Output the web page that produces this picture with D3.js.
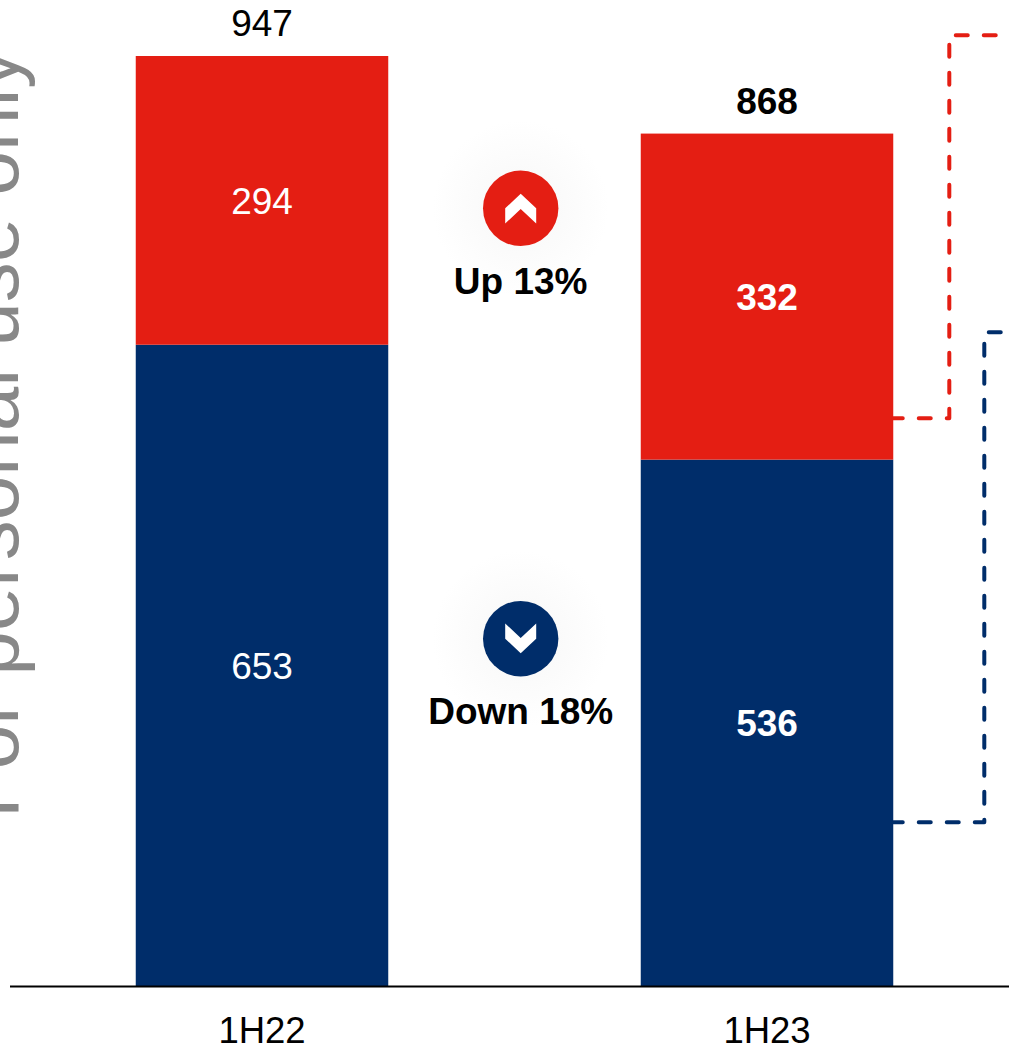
<!DOCTYPE html>
<html>
<head>
<meta charset="utf-8">
<script src="https://cdn.jsdelivr.net/npm/d3@7"></script>
<style>
html,body{margin:0;padding:0;background:#fff;overflow:hidden}
svg{display:block}
text{font-family:"Liberation Sans",Arial,sans-serif}
</style>
</head>
<body>
<div id="chart"></div>
<script>
const periods = ["1H22", "1H23"];
const lowerValues = [653, 536];
const upperValues = [294, 332];
const totals = [947, 868];
const changeLabels = ["Up 13%", "Down 18%"];
const watermark = "For personal use only";

const W = 1009, H = 1047;
const red = "#E41E13", navy = "#002D6A";
const fs = 37;
const svg = d3.select("#chart").append("svg").attr("width", W).attr("height", H);

const x = d3.scaleBand().domain(periods).range([9.5, 1019.5]).paddingInner(0.5).paddingOuter(0.25);
const y = d3.scaleLinear().domain([0, 947]).range([986, 56]);

// watermark
svg.append("text")
  .attr("transform", "translate(18,818) rotate(-90)")
  .attr("font-size", 80)
  .attr("fill", "#888888")
  .text(watermark);

// glow
const defs = svg.append("defs");
const glow = defs.append("radialGradient").attr("id", "glow");
glow.append("stop").attr("offset", "0.4").attr("stop-color", "#fafafa");
glow.append("stop").attr("offset", "1").attr("stop-color", "#ffffff");

// stacked bars
const stackRows = periods.map((p, i) => ({period: p, lower: lowerValues[i], upper: upperValues[i]}));
const series = d3.stack().keys(["lower", "upper"])(stackRows);
const colour = d3.scaleOrdinal().domain(["lower", "upper"]).range([navy, red]);
const layers = svg.append("g").selectAll("g").data(series).join("g").attr("fill", d => colour(d.key));
layers.selectAll("rect").data(d => d).join("rect")
  .attr("x", d => x(d.data.period))
  .attr("width", x.bandwidth())
  .attr("y", d => y(d[1]))
  .attr("height", d => y(d[0]) - y(d[1]));

// segment labels
const labelWeight = i => i === 1 ? "bold" : "normal";
layers.selectAll("text").data(d => d).join("text")
  .attr("x", d => x(d.data.period) + x.bandwidth() / 2)
  .attr("y", d => (y(d[0]) + y(d[1])) / 2 + 13.5)
  .attr("text-anchor", "middle")
  .attr("font-size", fs)
  .attr("fill", "#fff")
  .attr("font-weight", (d, i) => labelWeight(i))
  .text(d => d[1] - d[0]);

// totals
svg.append("g").selectAll("text").data(totals).join("text")
  .attr("x", (d, i) => x(periods[i]) + x.bandwidth() / 2)
  .attr("y", d => y(d) - 20)
  .attr("text-anchor", "middle")
  .attr("font-size", fs)
  .attr("font-weight", (d, i) => labelWeight(i))
  .attr("fill", "#000")
  .text(d => d);

// axis
const axis = svg.append("g").attr("transform", `translate(0,${y(0)})`)
  .call(d3.axisBottom(x).tickSize(0).tickPadding(31));
axis.select(".domain").attr("stroke", "#000").attr("stroke-width", 2);
axis.selectAll("text").attr("font-size", 36.5).attr("fill", "#000")
  .attr("font-family", '"Liberation Sans",Arial,sans-serif');

// change badges
const cx = 520.7;
const badges = [
  {label: changeLabels[0], cy: 208.3, fill: red, base: 293.5, dir: -1},
  {label: changeLabels[1], cy: 638.7, fill: navy, base: 723.5, dir: 1}
];
const badge = svg.append("g").selectAll("g").data(badges).join("g");
badge.append("circle").attr("cx", cx).attr("cy", d => d.cy).attr("r", 88).attr("fill", "url(#glow)");
badge.append("circle").attr("cx", cx).attr("cy", d => d.cy).attr("r", 37.7).attr("fill", d => d.fill);
badge.append("path").attr("fill", "#fff").attr("d", d => {
  const s = d.dir, c = d.cy;
  const pts = [[-15.5, -15 * s - 0.3 * s], [0, -0.8 * s], [15.5, -15 * s - 0.3 * s], [15.5, 0], [0, 14.5 * s], [-15.5, 0]];
  return d3.line()(pts.map(p => [cx + p[0], c + p[1]])) + "Z";
});
badge.append("text").attr("x", cx).attr("y", d => d.base)
  .attr("text-anchor", "middle").attr("font-size", fs).attr("font-weight", "bold").attr("fill", "#000")
  .text(d => d.label);

// dashed connectors
const connectors = [
  {stroke: red, pts: [[893.25, 418.3], [949.3, 418.3], [949.3, 35.3], [1030, 35.3]]},
  {stroke: navy, pts: [[893.25, 822.3], [984.3, 822.3], [984.3, 332.3], [1030, 332.3]]}
];
svg.append("g").selectAll("path").data(connectors).join("path")
  .attr("d", d => d3.line()(d.pts))
  .attr("fill", "none")
  .attr("stroke", d => d.stroke)
  .attr("stroke-width", 4)
  .attr("stroke-linecap", "round")
  .attr("stroke-linejoin", "round")
  .attr("stroke-dasharray", "12 16")
  .attr("stroke-dashoffset", 2.5);
</script>
</body>
</html>
